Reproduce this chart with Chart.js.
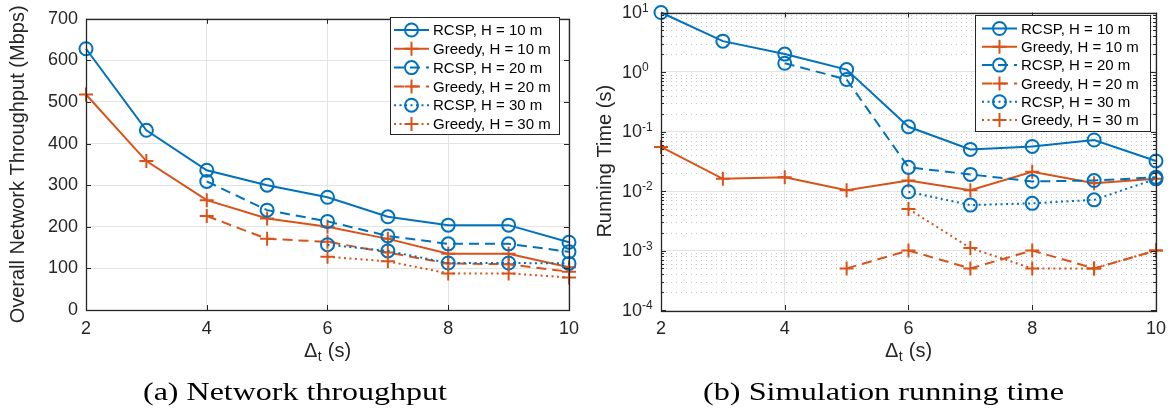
<!DOCTYPE html>
<html><head><meta charset="utf-8">
<script src="https://cdn.jsdelivr.net/npm/chart.js@4.4.1/dist/chart.umd.min.js"></script>
<style>
html,body{margin:0;padding:0;background:#fff;width:1174px;height:416px;overflow:hidden}
.w{position:absolute;top:0;width:587px;height:416px}
</style></head><body>
<div class="w" style="left:0"><canvas id="c1" width="587" height="416"></canvas></div>
<div class="w" style="left:587px"><canvas id="c2" width="587" height="416"></canvas></div>
<script>
// ---------- data ----------
const deltaT = [2, 3, 4, 5, 6, 7, 8, 9, 10];
const seriesLabels = ['RCSP, H = 10 m','Greedy, H = 10 m','RCSP, H = 20 m','Greedy, H = 20 m','RCSP, H = 30 m','Greedy, H = 30 m'];
const thrRcsp10   = [628, 432, 336, 300, 271, 224, 204, 204, 163];
const thrGreedy10 = [518, 358, 264, 220, 200, 171, 135, 135, 103];
const thrRcsp20   = [null, null, 309, 240, 213, 178, 159, 159, 140];
const thrGreedy20 = [null, null, 226, 171, 164, 138, 112, 110, 92];
const thrRcsp30   = [null, null, null, null, 157, 142, 113, 113, 112];
const thrGreedy30 = [null, null, null, null, 128, 117, 88, 88, 78];
const timeRcsp10   = [10, 3.3, 2.0, 1.1, 0.12, 0.05, 0.056, 0.072, 0.032];
const timeGreedy10 = [0.055, 0.016, 0.017, 0.0103, 0.015, 0.0103, 0.021, 0.0135, 0.016];
const timeRcsp20   = [null, null, 1.4, 0.75, 0.025, 0.019, 0.0145, 0.015, 0.017];
const timeGreedy20 = [null, null, null, 0.0005, 0.001, 0.0005, 0.001, 0.0005, 0.001];
const timeRcsp30   = [null, null, null, null, 0.0097, 0.0058, 0.0062, 0.0071, 0.016];
const timeGreedy30 = [null, null, null, null, 0.005, 0.0011, 0.0005, 0.0005, 0.001];
const thrTicks = [0, 100, 200, 300, 400, 500, 600, 700];
const xTicks = [2, 4, 6, 8, 10];
const logExponents = [-4, -3, -2, -1, 0, 1];

// ---------- styles ----------
const BLUE = '#0072BD', ORANGE = '#D95319', AX = '#262626';
const SANS = '"Liberation Sans", Arial, sans-serif';
const SERIF = '"Liberation Serif", "Times New Roman", serif';
const styles = [
  {c: BLUE, p: 'circle', d: []},
  {c: ORANGE, p: 'cross', d: []},
  {c: BLUE, p: 'circle', d: [10, 6]},
  {c: ORANGE, p: 'cross', d: [10, 6]},
  {c: BLUE, p: 'circle', d: [2, 3.5]},
  {c: ORANGE, p: 'cross', d: [2, 3.5]}
];
function makeSets(arrs) {
  return arrs.map((vals, i) => {
    const s = styles[i];
    return {
      label: seriesLabels[i],
      data: deltaT.map((x, j) => ({x: x, y: vals[j]})).filter(p => p.y !== null),
      borderColor: s.c, backgroundColor: s.c, borderWidth: 2, borderDash: s.d,
      pointStyle: s.p, pointRadius: s.p === 'circle' ? 6.5 : 7, pointHoverRadius: s.p === 'circle' ? 6.5 : 7,
      pointBorderWidth: 2, pointBackgroundColor: 'rgba(0,0,0,0)', pointBorderColor: s.c,
      tension: 0, fill: false, clip: false, order: 5 - i
    };
  });
}

function drawMarker(ctx, style, color, x, y) {
  ctx.save(); ctx.setLineDash([]); ctx.strokeStyle = color; ctx.lineWidth = 2;
  ctx.beginPath();
  if (style === 'circle') { ctx.arc(x, y, 6.5, 0, Math.PI * 2); }
  else { ctx.moveTo(x - 7, y); ctx.lineTo(x + 7, y); ctx.moveTo(x, y - 7); ctx.lineTo(x, y + 7); }
  ctx.stroke(); ctx.restore();
}

const isDecade = v => Math.abs(Math.log10(v) - Math.round(Math.log10(v))) < 1e-6;

const matlabPlugin = {
  id: 'matlab',
  beforeDatasetsDraw(chart, args, o) {
    if (!o.log) return;
    const {ctx, chartArea: a} = chart; const y = chart.scales.y;
    ctx.save(); ctx.strokeStyle = '#c4c4c4'; ctx.lineWidth = 1; ctx.setLineDash([1, 4]);
    for (let d = -4; d < 1; d++) for (let k = 2; k < 10; k++) {
      const py = Math.round(y.getPixelForValue(k * Math.pow(10, d))) + 0.5;
      ctx.beginPath(); ctx.moveTo(a.left, py); ctx.lineTo(a.right, py); ctx.stroke();
    }
    ctx.restore();
  },
  afterDatasetsDraw(chart, args, o) {
    const {ctx, chartArea: a} = chart; const xs = chart.scales.x, ys = chart.scales.y;
    ctx.save(); ctx.setLineDash([]);
    // inner ticks
    ctx.strokeStyle = AX; ctx.lineWidth = 1;
    ctx.beginPath();
    xTicks.forEach(v => { const px = Math.round(xs.getPixelForValue(v)) + 0.5;
      ctx.moveTo(px, a.bottom); ctx.lineTo(px, a.bottom - 5); ctx.moveTo(px, a.top); ctx.lineTo(px, a.top + 5); });
    if (o.log) {
      for (let d = -4; d <= 1; d++) for (let k = 1; k < 10; k++) {
        const v = k * Math.pow(10, d); if (v > 10.0001) continue;
        const py = Math.round(ys.getPixelForValue(v)) + 0.5; const L = k === 1 ? 5 : 3;
        ctx.moveTo(a.left, py); ctx.lineTo(a.left + L, py); ctx.moveTo(a.right, py); ctx.lineTo(a.right - L, py);
      }
    } else {
      thrTicks.forEach(v => { const py = Math.round(ys.getPixelForValue(v)) + 0.5;
        ctx.moveTo(a.left, py); ctx.lineTo(a.left + 5, py); ctx.moveTo(a.right, py); ctx.lineTo(a.right - 5, py); });
    }
    ctx.stroke();
    // box
    ctx.lineWidth = 1.3; ctx.strokeStyle = AX;
    ctx.strokeRect(Math.round(a.left) + 0.5, Math.round(a.top) + 0.5, Math.round(a.right - a.left), Math.round(a.bottom - a.top));
    // legend
    const L = o.legend;
    ctx.fillStyle = '#fff'; ctx.fillRect(L.x, L.y, L.w, L.h);
    ctx.lineWidth = 1; ctx.strokeStyle = AX; ctx.strokeRect(L.x + 0.5, L.y + 0.5, L.w, L.h);
    chart.data.datasets.forEach((ds, i) => {
      const ry = L.row0 + i * L.dy;
      ctx.save(); ctx.strokeStyle = ds.borderColor; ctx.lineWidth = 2; ctx.setLineDash(ds.borderDash);
      ctx.beginPath(); ctx.moveTo(L.lx1, ry); ctx.lineTo(L.lx2, ry); ctx.stroke(); ctx.restore();
      drawMarker(ctx, ds.pointStyle, ds.borderColor, (L.lx1 + L.lx2) / 2, ry);
      ctx.fillStyle = '#000'; ctx.font = '15px ' + SANS; ctx.textAlign = 'left'; ctx.textBaseline = 'middle';
      ctx.fillText(ds.label, L.tx, ry + 1);
    });
    ctx.restore();
  },
  afterDraw(chart, args, o) {
    const {ctx, chartArea: a} = chart; const ys = chart.scales.y;
    ctx.save(); ctx.fillStyle = AX;
    if (o.log) {
      logExponents.forEach(d => {
        const py = ys.getPixelForValue(Math.pow(10, d));
        const xr = a.left - 19;
        ctx.font = '18px ' + SANS; ctx.textAlign = 'right'; ctx.textBaseline = 'middle';
        ctx.fillText('10', xr, py + 1);
        ctx.font = '12px ' + SANS; ctx.textAlign = 'left'; ctx.textBaseline = 'alphabetic';
        ctx.fillText(d < 0 ? '-' + (-d) : String(d), xr, py - 1);
      });
    }
    // x axis title: Δ_t (s)
    const cx = (a.left + a.right) / 2, ty = 351;
    ctx.textBaseline = 'middle'; ctx.textAlign = 'left';
    ctx.font = '20px ' + SANS; const w1 = ctx.measureText('\u0394').width; const w3 = ctx.measureText(' (s)').width;
    ctx.font = '14px ' + SANS; const w2 = ctx.measureText('t').width + 1;
    let x0 = cx - (w1 + w2 + w3) / 2;
    ctx.font = '20px ' + SANS; ctx.fillText('\u0394', x0, ty);
    ctx.font = '14px ' + SANS; ctx.fillText('t', x0 + w1 + 0.5, ty + 6);
    ctx.font = '20px ' + SANS; ctx.fillText(' (s)', x0 + w1 + w2, ty);
    // caption
    ctx.fillStyle = '#000'; ctx.font = '26px ' + SERIF; ctx.textAlign = 'left'; ctx.textBaseline = 'middle';
    const cw = ctx.measureText(o.caption.text).width; const sx = o.caption.width / cw;
    ctx.translate(o.caption.cx - o.caption.width / 2, 393); ctx.scale(sx, 1);
    ctx.fillText(o.caption.text, 0, 0);
    ctx.restore();
  }
};

const tickFont = {family: SANS, size: 18};
function xScale() {
  return {type: 'linear', min: 2, max: 10,
    ticks: {stepSize: 2, font: tickFont, color: AX, padding: 8, maxRotation: 0, autoSkip: false},
    grid: {color: '#e3e3e3', drawTicks: false}, border: {display: false},
    afterFit: s => { s.height = 106; }};
}

new Chart(document.getElementById('c1'), {
  type: 'line',
  data: {datasets: makeSets([thrRcsp10, thrGreedy10, thrRcsp20, thrGreedy20, thrRcsp30, thrGreedy30])},
  options: {
    responsive: false, animation: false, devicePixelRatio: 1,
    layout: {padding: {top: 10, right: 17, left: 0, bottom: 0}},
    plugins: {legend: {display: false}, tooltip: {enabled: false},
      matlab: {log: false,
        legend: {x: 390, y: 17, w: 169, h: 117, row0: 30, dy: 18.8, lx1: 394, lx2: 429, tx: 433},
        caption: {text: '(a) Network throughput', cx: 295, width: 304}}},
    scales: {
      x: xScale(),
      y: {type: 'linear', min: 0, max: 700,
        ticks: {stepSize: 100, font: tickFont, color: AX, padding: 8},
        grid: {color: '#e3e3e3', drawTicks: false}, border: {display: false},
        title: {display: true, text: 'Overall Network Throughput (Mbps)', color: AX, font: {family: SANS, size: 20}, padding: {top: 6, bottom: 0}},
        afterFit: s => { s.width = 86; }}
    }
  },
  plugins: [matlabPlugin]
});

new Chart(document.getElementById('c2'), {
  type: 'line',
  data: {datasets: makeSets([timeRcsp10, timeGreedy10, timeRcsp20, timeGreedy20, timeRcsp30, timeGreedy30])},
  options: {
    responsive: false, animation: false, devicePixelRatio: 1,
    layout: {padding: {top: 12.5, right: 17, left: 0, bottom: 0}},
    plugins: {legend: {display: false}, tooltip: {enabled: false},
      matlab: {log: true,
        legend: {x: 388, y: 15, w: 175, h: 116, row0: 28.5, dy: 18.3, lx1: 395, lx2: 430, tx: 434},
        caption: {text: '(b) Simulation running time', cx: 296.5, width: 361}}},
    scales: {
      x: xScale(),
      y: {type: 'logarithmic', min: 1e-4, max: 10,
        ticks: {display: false, font: tickFont},
        grid: {color: c => (c.tick && isDecade(c.tick.value)) ? '#e3e3e3' : 'rgba(0,0,0,0)', drawTicks: false},
        border: {display: false},
        title: {display: true, text: 'Running Time (s)', color: AX, font: {family: SANS, size: 20}, padding: {top: 6, bottom: 0}},
        afterFit: s => { s.width = 74; }}
    }
  },
  plugins: [matlabPlugin]
});
</script>
</body></html>
